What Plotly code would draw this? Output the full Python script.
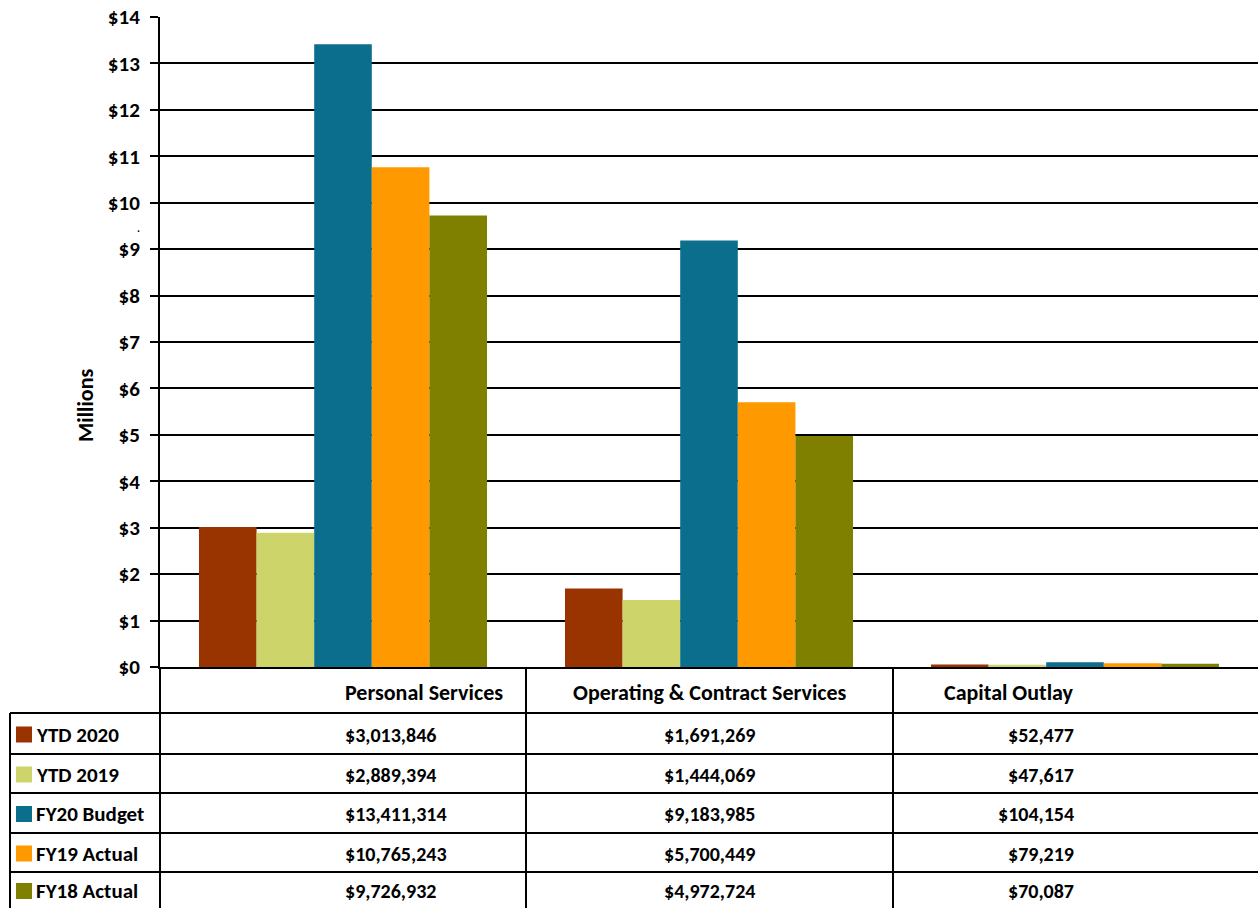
import plotly.graph_objects as go

# Expenditure comparison by category
categories = ["Personal Services", "Operating & Contract Services", "Capital Outlay"]
series_names = ["YTD 2020", "YTD 2019", "FY20 Budget", "FY19 Actual", "FY18 Actual"]
ytd_2020 = [3013846, 1691269, 52477]
ytd_2019 = [2889394, 1444069, 47617]
fy20_budget = [13411314, 9183985, 104154]
fy19_actual = [10765243, 5700449, 79219]
fy18_actual = [9726932, 4972724, 70087]
y_ticks = list(range(0, 15))
y_tick_labels = [f"${v}" for v in y_ticks]

series_values = [ytd_2020, ytd_2019, fy20_budget, fy19_actual, fy18_actual]
colors = ["#993300", "#CDD56A", "#0B6E8C", "#FF9900", "#808000"]

W, H = 1258, 908
L, R, T, B = 160, 0, 17, 241
PW, PH = W - L - R, H - T - B
FONT = "Carlito, Liberation Sans Narrow, Arial Narrow, Liberation Sans, sans-serif"


def px(x):
    return (x - L) / PW


def py(y):
    return (H - B - y) / PH


fig = go.Figure()
for name, vals, col in zip(series_names, series_values, colors):
    fig.add_trace(go.Bar(
        x=categories, y=[v / 1e6 for v in vals], name=name,
        marker=dict(color=col, line=dict(width=0)), showlegend=False,
    ))

shapes = []
annotations = []
line = dict(color="black", width=2)

# data table grid below the axis
row_edges = [713, 754, 793, 833, 872, 908]
col_edges = [L, 526, 893, W]
for y in row_edges[:-1]:
    shapes.append(dict(type="line", xref="paper", yref="paper",
                       x0=px(10), x1=px(W), y0=py(y), y1=py(y), line=line))
shapes.append(dict(type="line", xref="paper", yref="paper",
                   x0=px(10), x1=px(10), y0=py(713), y1=py(908), line=line))
for x in col_edges[:-1]:
    shapes.append(dict(type="line", xref="paper", yref="paper",
                       x0=px(x), x1=px(x), y0=py(667), y1=py(908), line=line))

cat_centers = [(col_edges[i] + col_edges[i + 1]) / 2 for i in range(3)]
for c, cx in zip(categories, cat_centers):
    annotations.append(dict(xref="paper", yref="paper", x=px(cx), y=py(692),
                            yanchor="middle", text=f"<b>{c}</b>", showarrow=False,
                            font=dict(size=22, family=FONT, color="black")))

for i, (name, vals, col) in enumerate(zip(series_names, series_values, colors)):
    cy = (row_edges[i] + row_edges[i + 1]) / 2 + 1
    shapes.append(dict(type="rect", xref="paper", yref="paper",
                       x0=px(16), x1=px(32), y0=py(cy - 8), y1=py(cy + 8),
                       fillcolor=col, line=dict(width=0)))
    annotations.append(dict(xref="paper", yref="paper", x=px(34), y=py(cy),
                            xanchor="left", yanchor="middle",
                            text=f"<b>{name}</b>", showarrow=False,
                            font=dict(size=21, family=FONT, color="black")))
    for v, cx in zip(vals, cat_centers):
        annotations.append(dict(xref="paper", yref="paper", x=px(cx), y=py(cy),
                                yanchor="middle", text=f"<b>${v:,}</b>", showarrow=False,
                                font=dict(size=20, family=FONT, color="black")))

# axis title
annotations.append(dict(xref="paper", yref="paper", x=px(85), y=py(406),
                        xanchor="center", yanchor="middle", textangle=-90,
                        text="<b>Millions</b>", showarrow=False,
                        font=dict(size=22, family=FONT, color="black")))

annotations.append(dict(xref="paper", yref="paper", x=px(135), y=py(229),
                        yanchor="middle", text="<b>.</b>", showarrow=False,
                        font=dict(size=11, family=FONT, color="black")))

fig.update_layout(
    width=W, height=H,
    margin=dict(l=L, r=R, t=T, b=B),
    paper_bgcolor="white", plot_bgcolor="white",
    barmode="group", bargap=0.213, bargroupgap=0,
    font=dict(family=FONT, color="black"),
    shapes=shapes, annotations=annotations,
    xaxis=dict(showticklabels=False, showgrid=False, zeroline=False,
               showline=True, linecolor="black", linewidth=2, ticks=""),
    yaxis=dict(range=[0, 14], tickvals=y_ticks, ticktext=[f"<b>{t}</b>" for t in y_tick_labels],
               showgrid=True, gridcolor="black", gridwidth=2,
               zeroline=False, showline=True, linecolor="black", linewidth=2,
               ticks="outside", ticklen=8, tickwidth=2, tickcolor="black",
               ticklabelstandoff=6,
               tickfont=dict(size=21, family=FONT, color="black")),
)

fig.write_html("out.html")
